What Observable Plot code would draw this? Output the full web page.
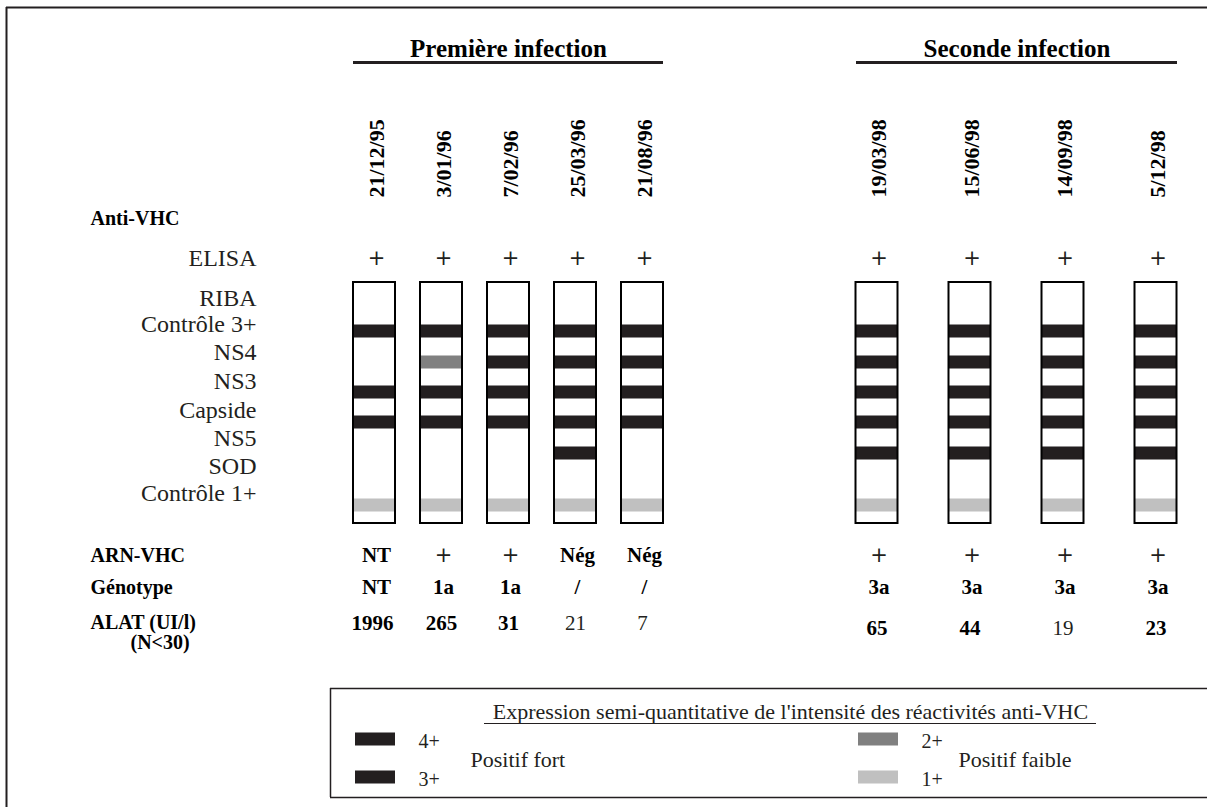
<!DOCTYPE html>
<html><head><meta charset="utf-8">
<script src="https://cdn.jsdelivr.net/npm/d3@7"></script>
<script src="https://cdn.jsdelivr.net/npm/@observablehq/plot@0.6"></script>
<style>html,body{margin:0;padding:0;background:#fff}svg{display:block}</style>
</head><body><div id="chart"></div>
<script>
// ---------- DATA ----------
const groups = ["Première infection", "Seconde infection"];
const dates1 = ["21/12/95", "3/01/96", "7/02/96", "25/03/96", "21/08/96"];
const dates2 = ["19/03/98", "15/06/98", "14/09/98", "5/12/98"];
const antigens = ["Contrôle 3+", "NS4", "NS3", "Capside", "NS5", "SOD", "Contrôle 1+"];
const ribaLabels = ["RIBA", ...antigens];
// RIBA intensity per date (0 = absent), order = antigens
const riba = [
  [3, 0, 3, 3, 0, 0, 1],
  [3, 2, 3, 3, 0, 0, 1],
  [3, 3, 3, 3, 0, 0, 1],
  [3, 3, 3, 3, 3, 0, 1],
  [3, 3, 3, 3, 0, 0, 1],
  [3, 3, 3, 3, 3, 0, 1],
  [3, 3, 3, 3, 3, 0, 1],
  [3, 3, 3, 3, 3, 0, 1],
  [3, 3, 3, 3, 3, 0, 1]
];
const elisa = ["+", "+", "+", "+", "+", "+", "+", "+", "+"];
const arn = ["NT", "+", "+", "Nég", "Nég", "+", "+", "+", "+"];
const genotype = ["NT", "1a", "1a", "/", "/", "3a", "3a", "3a", "3a"];
const alat = [1996, 265, 31, 21, 7, 65, 44, 19, 23];
const alatBold = [true, true, true, false, false, true, true, false, true];
const legendItems = ["4+", "3+", "2+", "1+"];
const legendGroups = ["Positif fort", "Positif faible"];
const legendTitle = "Expression semi-quantitative de l'intensité des réactivités anti-VHC";

// ---------- LAYOUT ----------
const dates = [...dates1, ...dates2];
const colX = i => i < 5 ? 374 + 67 * i : 876.5 + 93 * (i - 5);
const stripHalf = 21;
const bandY = {"Contrôle 3+": 331, "NS4": 362, "NS3": 392, "Capside": 422, "NS5": 453, "SOD": 483, "Contrôle 1+": 505};
const labelY = {"RIBA": 298, "Contrôle 3+": 324, "NS4": 352, "NS3": 381, "Capside": 410, "NS5": 438, "SOD": 466, "Contrôle 1+": 493};
const intensityColor = {4: "#231f20", 3: "#231f20", 2: "#808080", 1: "#c0c0c0"};
const ink = "#231f20";

const cols = dates.map((d, i) => ({date: d, i, x: colX(i)}));
const bands = [];
riba.forEach((row, i) => row.forEach((v, j) => {
  if (v > 0) bands.push({i, antigen: antigens[j], v, x: colX(i), y: bandY[antigens[j]]});
}));
const plusVals = [], boldVals = [], normVals = [];
cols.forEach(c => {
  plusVals.push({x: c.x + 2, y: 258, t: elisa[c.i]});
  if (arn[c.i] === "+") plusVals.push({x: c.x + 2, y: 555, t: arn[c.i]});
  else boldVals.push({x: c.x + 2, y: 555, t: arn[c.i]});
  boldVals.push({x: c.x + 2, y: 587, t: genotype[c.i]});
  const a = {x: c.x + (c.i === 0 ? -2 : 0), y: c.i < 5 ? 623 : 628, t: String(alat[c.i])};
  (alatBold[c.i] ? boldVals : normVals).push(a);
});
const groupSpan = [[353, 663], [856, 1177]];
const legendSw = [
  {k: "4+", x: 355, y: 739}, {k: "3+", x: 355, y: 777},
  {k: "2+", x: 858, y: 739}, {k: "1+", x: 858, y: 777}
];
const legendSwColor = {"4+": intensityColor[4], "3+": intensityColor[3], "2+": intensityColor[2], "1+": intensityColor[1]};

const chart = Plot.plot({
  width: 1207, height: 807, margin: 0,
  x: {type: "linear", domain: [0, 1207], range: [0, 1207], axis: null},
  y: {type: "linear", domain: [0, 807], range: [0, 807], axis: null},
  style: {fontFamily: "Liberation Serif", background: "#fff", color: ink},
  marks: [
    // outer frame (left & top)
    Plot.ruleX([6], {y1: 7, y2: 807, stroke: ink, strokeWidth: 2}),
    Plot.ruleY([7], {x1: 6, x2: 1207, stroke: ink, strokeWidth: 2}),
    // group headers
    Plot.text(groups, {x: (d, i) => (groupSpan[i][0] + groupSpan[i][1]) / 2, y: 48, text: d => d, fontWeight: "bold", fontSize: 25, fill: "#000"}),
    Plot.ruleY(groups, {y: 62, x1: (d, i) => groupSpan[i][0], x2: (d, i) => groupSpan[i][1], stroke: ink, strokeWidth: 3}),
    // dates
    Plot.text(cols, {x: d => d.x + 2, y: 197, text: "date", rotate: -90, textAnchor: "start", fontWeight: "bold", fontSize: 22, fill: "#000"}),
    // row titles
    Plot.text(["Anti-VHC", "ARN-VHC", "Génotype", "ALAT (UI/l)"], {x: 90, y: (d, i) => [218, 555, 587, 622][i], text: d => d, textAnchor: "start", fontWeight: "bold", fontSize: 20, fill: "#000"}),
    Plot.text(["(N<30)"], {x: 130, y: 642, text: d => d, textAnchor: "start", fontWeight: "bold", fontSize: 20, fill: "#000"}),
    // test labels
    Plot.text(["ELISA", ...ribaLabels], {x: 256, y: d => d === "ELISA" ? 258 : labelY[d], text: d => d, textAnchor: "end", fontSize: 24, fill: ink}),
    // RIBA strips: bands
    Plot.rect(bands, {x1: d => d.x - stripHalf, x2: d => d.x + stripHalf, y1: d => d.y - 6.5, y2: d => d.y + 6.5, fill: d => intensityColor[d.v]}),
    // strip outlines
    Plot.rect(cols, {x1: d => d.x - stripHalf, x2: d => d.x + stripHalf, y1: 282, y2: 523, fill: "none", stroke: "#000", strokeWidth: 2}),
    // row values
    Plot.text(plusVals, {x: "x", y: "y", text: "t", fontFamily: "DejaVu Sans", fontSize: 21, fill: ink}),
    Plot.text(boldVals, {x: "x", y: "y", text: "t", fontWeight: "bold", fontSize: 21, fill: "#000"}),
    Plot.text(normVals, {x: "x", y: "y", text: "t", fontSize: 21, fill: ink}),
    // legend box
    Plot.ruleY([688, 797], {x1: 330, x2: 1207, stroke: ink, strokeWidth: 1.5}),
    Plot.ruleX([330], {y1: 688, y2: 797, stroke: ink, strokeWidth: 1.5}),
    Plot.text([legendTitle], {x: 790, y: 711, text: d => d, fontSize: 22, fill: ink}),
    Plot.ruleY([legendTitle], {y: 723, x1: 484, x2: 1096, stroke: ink, strokeWidth: 1}),
    Plot.rect(legendSw, {x1: d => d.x, x2: d => d.x + 40, y1: d => d.y - 6.5, y2: d => d.y + 6.5, fill: d => legendSwColor[d.k]}),
    Plot.text(legendSw, {x: d => d.x + 63, y: d => d.y + 2, text: "k", textAnchor: "start", fontSize: 20, fill: ink}),
    Plot.text(legendGroups, {x: (d, i) => [470, 958][i], y: 759, text: d => d, textAnchor: "start", fontSize: 22, fill: ink})
  ]
});
document.getElementById("chart").appendChild(chart);
</script>
</body></html>
